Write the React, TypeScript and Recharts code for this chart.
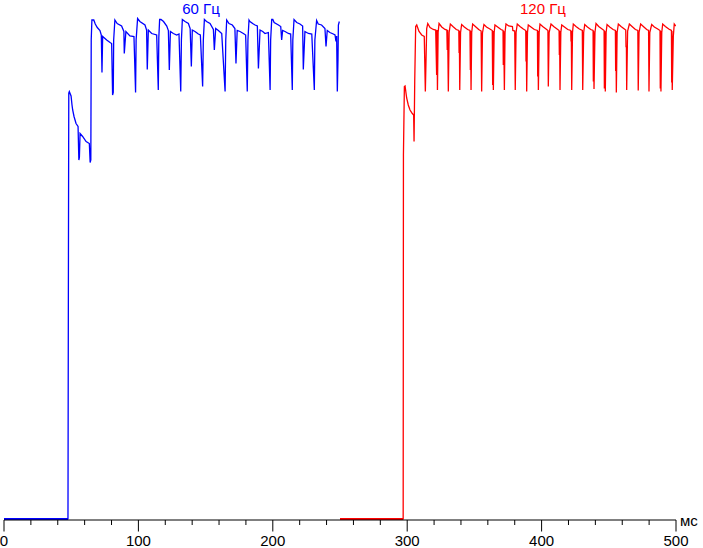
import { Line, LineChart, XAxis, YAxis } from "recharts"

// time (ms), brightness (% of max)
const blue60: [number, number][] = [
  [0, 0.25], [47.6, 0.25], [47.9, 46], [48.2, 85.4], [48.6, 85.7], [49.9, 84.8], [50.6, 83], [51.1, 82],
  [52.1, 80.7], [53.6, 79.3], [55.1, 78.7], [55.7, 72], [56.1, 72.5], [56.6, 77.3], [58.5, 76.7], [61.1, 75.7],
  [63.5, 75.3], [64.1, 71.5], [64.6, 72], [64.9, 96.1], [65.4, 100], [66.8, 100],
  [67.9, 99.2], [69.4, 98.5], [71.4, 97.9], [72.4, 97], [72.9, 89.5], [73.4, 96.7], [76.4, 96], [78.9, 95.5],
  [80.1, 95.3], [80.8, 85], [81.3, 85.5], [81.6, 96],
  [82.5, 100], [84.2, 99.3], [87.5, 98.8], [89.2, 97.7], [89.5, 93.3], [90.7, 97.7], [93.7, 96.8], [96.7, 96.7],
  [97.9, 85.5], [98.3, 96],
  [99.4, 100.3], [101.1, 99.7], [104.9, 99], [106.1, 98], [106.6, 90.1], [107.4, 98], [109.9, 97.3], [113.6, 97],
  [114.8, 86], [115.2, 96.5],
  [115.8, 100.1], [116.8, 100.1], [118.7, 99.7], [121.1, 98.8], [122.3, 97.9], [123.0, 90], [123.8, 97.7],
  [126.0, 97.3], [128.5, 97], [130.2, 97.2], [131.5, 85.7], [132.0, 96],
  [132.7, 100.1], [134.7, 99.7], [137.2, 99.3], [138.5, 98.3], [139.4, 90.7], [140.1, 98], [142.1, 97.7],
  [144.6, 97.2], [146.1, 97], [147.8, 86.7], [148.3, 96],
  [149.1, 100.1], [150.7, 99.7], [153.3, 99.3], [155.8, 98.1], [156.5, 94], [157.5, 98.3], [159.5, 97.9],
  [162.0, 97.3], [164.5, 85.7], [165.0, 96],
  [165.7, 100], [167.4, 99.3], [169.9, 99], [171.8, 98.3], [172.6, 91.3], [173.5, 97.9], [175.6, 97.7],
  [178.1, 97.3], [179.8, 97], [181.0, 85.7], [181.5, 96],
  [182.3, 100], [183.0, 99.7], [185.0, 99.3], [186.8, 99], [188.5, 98.8], [189.3, 90.3], [190.5, 98],
  [192.5, 97.7], [194.2, 97.3], [196.7, 97.5], [198.0, 86], [198.4, 96],
  [199.2, 100.1], [200.0, 100.1], [201.0, 99.5], [204.2, 99], [205.9, 98.7], [206.6, 96], [207.3, 97.9],
  [209.1, 97.7], [211.6, 97.3], [213.3, 97.2], [214.5, 86], [214.9, 96],
  [215.8, 100.1], [217.8, 99.5], [220.2, 99.2], [222.2, 98.8], [222.7, 90.1], [223.9, 97.7], [226.5, 97.3],
  [229.0, 97.2], [230.9, 86], [231.3, 96],
  [232.6, 99.9], [233.8, 99.2], [236.3, 99], [238.8, 98.3], [239.6, 94.7], [240.5, 97.9], [242.5, 97.5],
  [245.0, 97.2], [246.3, 97], [247.0, 95.7], [247.5, 96.8], [248.0, 85.7], [248.5, 92], [248.8, 99], [249.5, 99.7],
]

const red120: [number, number][] = [
  [250, 0.25], [297.0, 0.25], [297.2, 73], [297.9, 86.7], [298.4, 86.8], [299.6, 84.4], [300.8, 83], [302.1, 82],
  [303.8, 81.3], [304.8, 81], [305.1, 75.7], [305.6, 87.7], [306.3, 98.7], [307.1, 99],
  [308.8, 97.7], [310.8, 97], [312.7, 96.7], [313.5, 85.7], [314.5, 98.3],
  [315.3, 99.3], [317.0, 98.5], [319.4, 98.1], [321.2, 98], [321.9, 89], [322.2, 98], [322.5, 86], [323.0, 97.5],
  [323.7, 99.3], [325.7, 98.6], [328.1, 98.1], [329.5, 98], [329.8, 94], [330.1, 98], [330.6, 85.7], [331.2, 97.5],
  [332.1, 99.2], [334.0, 98.7], [336.5, 98.1], [338.4, 97.9], [338.6, 93.4], [338.8, 97.8], [339.1, 86], [339.7, 97.5],
  [340.5, 99.1], [342.5, 98.6], [345.0, 98.1], [346.7, 97.9], [347.0, 90], [347.2, 97.8], [347.5, 86], [348.0, 97.5],
  [348.7, 99.2], [350.7, 98.7], [353.2, 98.1], [355.0, 97.8], [355.4, 85.7], [356.0, 97.4],
  [357.1, 99.1], [359.0, 98.6], [361.5, 98.2], [363.3, 97.9], [363.6, 87], [363.8, 97.8], [364.1, 86], [364.7, 97.5],
  [365.3, 99], [367.3, 98.6], [369.8, 98.1], [371.3, 97.9], [371.5, 91], [371.8, 97.8], [372.3, 86], [372.8, 97.5],
  [373.5, 99.2], [375.5, 98.8], [378.3, 98.7], [378.6, 97.9], [380.0, 97.8], [380.4, 86], [381.0, 97.5],
  [381.9, 99.2], [383.9, 98.7], [386.4, 98.2], [388.2, 97.9], [388.4, 91.7], [388.6, 97.8], [388.9, 85.7], [389.5, 97.5],
  [390.1, 99], [392.1, 98.6], [394.6, 98.1], [396.9, 97.9], [397.1, 88.7], [397.3, 97.8], [397.6, 86], [398.2, 97.5],
  [398.8, 99.2], [400.8, 98.7], [403.3, 98.2], [404.7, 97.9], [405.0, 86.7], [405.6, 97.5],
  [407.0, 99.2], [409.0, 98.7], [411.5, 98.2], [413.0, 97.9], [413.2, 93], [413.4, 97.8], [413.7, 86], [414.3, 97.5],
  [415.0, 99], [417.0, 98.6], [419.5, 98.1], [421.7, 97.9], [421.9, 95.7], [422.1, 97.8], [422.4, 86], [423.0, 97.5],
  [423.6, 99.2], [425.6, 98.7], [428.1, 98.2], [430.3, 97.9], [430.6, 86], [431.3, 97.5],
  [432.1, 99.1], [434.1, 98.6], [436.6, 98.1], [438.3, 97.9], [438.5, 87.7], [438.7, 97.8], [439.0, 86.2], [439.7, 97.5],
  [440.5, 99.3], [442.5, 98.7], [445.0, 98.2], [446.5, 97.9], [446.7, 86.3], [447.0, 97.8], [447.4, 85.7], [448.0, 97.5],
  [448.7, 99.1], [450.7, 98.6], [453.2, 98.1], [454.9, 97.9], [455.1, 89.8], [455.3, 97.8], [455.6, 85.5], [456.2, 97.5],
  [457.1, 99.2], [459.1, 98.7], [461.6, 98.2], [462.6, 98], [462.8, 94.7], [463.1, 94.7], [463.3, 86], [463.8, 94.7], [464.0, 97.8],
  [465.3, 99.2], [467.3, 98.7], [469.8, 98.1], [471.6, 97.9], [471.9, 85.9], [472.5, 97.5],
  [473.7, 99.2], [475.7, 98.7], [478.2, 98.1], [479.6, 97.9], [479.9, 85.7], [480.5, 97.5],
  [481.9, 99.1], [483.9, 98.6], [486.4, 98.2], [488.1, 97.9], [488.3, 86.3], [488.5, 97.8], [488.8, 85.7], [489.4, 97.5],
  [490.1, 99.2], [492.1, 98.7], [494.6, 98.2], [496.6, 97.9], [496.8, 87.5], [497.0, 97.8], [497.2, 86], [498.0, 96.7],
  [498.7, 99.2], [499.8, 98.8],
]

// the dark "off" stretches before each step look heavier in the original
const blueFloor: [number, number][] = [[0, 0.1], [47.6, 0.1]]
const redFloor: [number, number][] = [[250, 0.1], [297.0, 0.1]]

const xTicks = [0, 20, 40, 60, 80, 100, 120, 140, 160, 180, 200, 220, 240, 260, 280, 300, 320, 340, 360, 380, 400, 420, 440, 460, 480, 500]

const rows = (pts: [number, number][]) => pts.map(([t, v]) => ({ t, v }))

const font = "'Liberation Sans', Arial, sans-serif"

function TimeTick(props: any) {
  const { x, y, payload } = props
  const major = payload.value % 100 === 0
  return (
    <g>
      <line x1={x} x2={x} y1={y} y2={y + (major ? 11.5 : 5)} stroke="#000" />
      {major && (
        <text x={x} y={y + 26} textAnchor="middle" fontSize={15} fontFamily={font} fill="#000">
          {payload.value}
        </text>
      )}
    </g>
  )
}

export default function App() {
  return (
    <div style={{ position: "absolute", left: 0, top: 0, width: 703, height: 548, background: "#fff" }}>
      <LineChart width={703} height={548} margin={{ top: 10, right: 27, bottom: 0, left: 4 }}>
        <XAxis
          type="number"
          dataKey="t"
          domain={[0, 500]}
          ticks={xTicks}
          interval={0}
          allowDataOverflow
          height={28}
          tickSize={0}
          tickMargin={0}
          tickLine={false}
          axisLine={{ stroke: "#000" }}
          tick={<TimeTick />}
        />
        <YAxis hide type="number" domain={[0, 102]} allowDataOverflow />
        <Line data={rows(blueFloor)} dataKey="v" type="linear" stroke="#0000ff" strokeWidth={2.4} dot={false} isAnimationActive={false} />
        <Line data={rows(redFloor)} dataKey="v" type="linear" stroke="#ff0000" strokeWidth={2.4} dot={false} isAnimationActive={false} />
        <Line data={rows(blue60)} dataKey="v" type="linear" stroke="#0000ff" strokeWidth={1.3} dot={false} isAnimationActive={false} />
        <Line data={rows(red120)} dataKey="v" type="linear" stroke="#ff0000" strokeWidth={1.3} dot={false} isAnimationActive={false} />
      </LineChart>
      <svg width={703} height={548} style={{ position: "absolute", left: 0, top: 0, pointerEvents: "none" }}>
        <text x={201} y={14} textAnchor="middle" fontSize={15} fontFamily={font} fill="#0000ff">60 Гц</text>
        <text x={543} y={14} textAnchor="middle" fontSize={15} fontFamily={font} fill="#ff0000">120 Гц</text>
        <text x={680} y={526} fontSize={15} fontFamily={font} fill="#000">мс</text>
      </svg>
    </div>
  )
}
